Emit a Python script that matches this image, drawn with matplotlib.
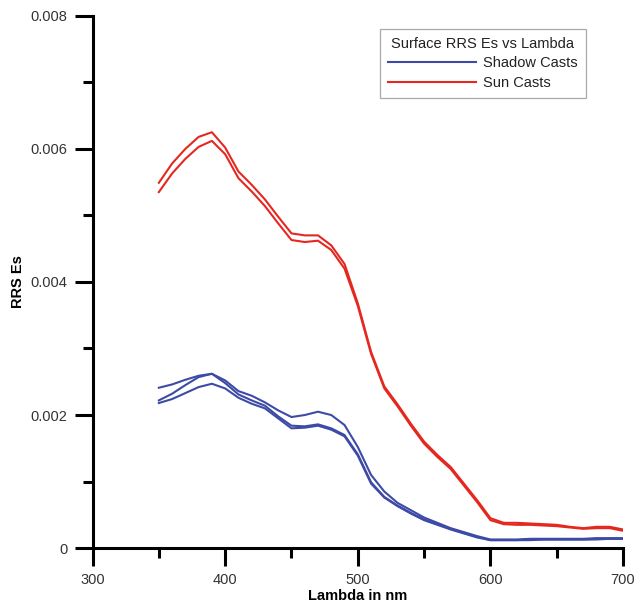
import matplotlib
matplotlib.use("Agg")
import matplotlib.pyplot as plt
from matplotlib.ticker import MultipleLocator

plt.rcParams['font.family'] = ['Liberation Sans', 'DejaVu Sans']

wavelength = [350, 360, 370, 380, 390, 400, 410, 420, 430, 440, 450, 460,
              470, 480, 490, 500, 510, 520, 530, 540, 550, 560, 570, 580,
              590, 600, 610, 620, 630, 640, 650, 660, 670, 680, 690, 700]

sun_cast_1 = [0.00549, 0.00578, 0.00600, 0.00618, 0.00625, 0.00602, 0.00566, 0.00546,
              0.00524, 0.00498, 0.00473, 0.00470, 0.00470, 0.00455, 0.00427, 0.00368,
              0.00295, 0.00243, 0.00216, 0.00187, 0.00160, 0.00140, 0.00122, 0.00097,
              0.00072, 0.00045, 0.00038, 0.00038, 0.00037, 0.00036, 0.00035, 0.00032,
              0.00030, 0.00032, 0.00032, 0.00028]
sun_cast_2 = [0.00535, 0.00563, 0.00585, 0.00603, 0.00612, 0.00592, 0.00556, 0.00536,
              0.00514, 0.00488, 0.00463, 0.00460, 0.00462, 0.00448, 0.00420, 0.00364,
              0.00292, 0.00240, 0.00213, 0.00184, 0.00157, 0.00137, 0.00119, 0.00094,
              0.00069, 0.00042, 0.00036, 0.00035, 0.00035, 0.00034, 0.00033, 0.00031,
              0.00029, 0.00030, 0.00030, 0.00026]

shadow_cast_1 = [0.00241, 0.00246, 0.00253, 0.00259, 0.00262, 0.00252, 0.00236, 0.00229,
                 0.00219, 0.00207, 0.00197, 0.00200, 0.00205, 0.00200, 0.00185, 0.00152,
                 0.00110, 0.00085, 0.00068, 0.00057, 0.00046, 0.00038, 0.00030, 0.00024,
                 0.00018, 0.00013, 0.00013, 0.00013, 0.00014, 0.00014, 0.00014, 0.00014,
                 0.00014, 0.00015, 0.00015, 0.00015]
shadow_cast_2 = [0.00222, 0.00232, 0.00245, 0.00257, 0.00262, 0.00248, 0.00231, 0.00222,
                 0.00214, 0.00198, 0.00184, 0.00183, 0.00186, 0.00180, 0.00170, 0.00141,
                 0.00099, 0.00077, 0.00064, 0.00053, 0.00043, 0.00036, 0.00029, 0.00023,
                 0.00017, 0.00012, 0.00012, 0.00012, 0.00013, 0.00013, 0.00013, 0.00013,
                 0.00013, 0.00014, 0.00014, 0.00014]
shadow_cast_3 = [0.00218, 0.00224, 0.00233, 0.00242, 0.00247, 0.00240, 0.00226, 0.00217,
                 0.00210, 0.00195, 0.00180, 0.00181, 0.00184, 0.00178, 0.00168, 0.00139,
                 0.00097, 0.00076, 0.00063, 0.00052, 0.00042, 0.00035, 0.00028, 0.00022,
                 0.00016, 0.00012, 0.00012, 0.00012, 0.00012, 0.00013, 0.00013, 0.00013,
                 0.00013, 0.00013, 0.00014, 0.00014]

x_ticks = [300, 400, 500, 600, 700]
y_ticks = [0, 0.002, 0.004, 0.006, 0.008]
y_tick_labels = ['0', '0.002', '0.004', '0.006', '0.008']

RED = '#e5281f'
BLUE = '#3d4ba6'

fig = plt.figure(figsize=(6.35, 6.07), dpi=100)
ax = fig.add_axes([0.1457, 0.097, 0.8355, 0.877])

lw = 1.5
ax.plot(wavelength, shadow_cast_1, color=BLUE, lw=lw, label='Shadow Casts')
ax.plot(wavelength, shadow_cast_2, color=BLUE, lw=lw)
ax.plot(wavelength, shadow_cast_3, color=BLUE, lw=lw)
ax.plot(wavelength, sun_cast_1, color=RED, lw=lw, label='Sun Casts')
ax.plot(wavelength, sun_cast_2, color=RED, lw=lw)

ax.set_xlim(300, 700)
ax.set_ylim(0, 0.008)
ax.set_xticks(x_ticks)
ax.set_yticks(y_ticks)
ax.set_yticklabels(y_tick_labels)
ax.xaxis.set_minor_locator(MultipleLocator(50))
ax.yaxis.set_minor_locator(MultipleLocator(0.001))

for s in ['top', 'right']:
    ax.spines[s].set_visible(False)
for s in ['left', 'bottom']:
    ax.spines[s].set_linewidth(2.2)
    ax.spines[s].set_color('black')

ax.tick_params(which='major', direction='out', length=13, width=2.2,
               labelsize=10.5, pad=5, colors='black', labelcolor='#333333')
ax.tick_params(which='minor', direction='out', length=7, width=2.2)

ax.set_xlabel('Lambda in nm', fontsize=10.5, fontweight='bold', labelpad=1)
ax.set_ylabel('RRS Es', fontsize=10.5, fontweight='bold', labelpad=4)

leg = ax.legend(title='Surface RRS Es vs Lambda', loc='upper left',
                bbox_to_anchor=(0.542, 0.9756), fontsize=10.5, title_fontsize=10.5,
                handlelength=6.0, handletextpad=0.5, fancybox=False,
                framealpha=1, edgecolor='#b0a8a8', borderpad=0.55,
                labelspacing=0.38, borderaxespad=0)
leg.get_frame().set_linewidth(0.9)
for t in leg.get_texts():
    t.set_color('#222222')
leg.get_title().set_color('#222222')

fig.savefig('out.png', dpi=100)
